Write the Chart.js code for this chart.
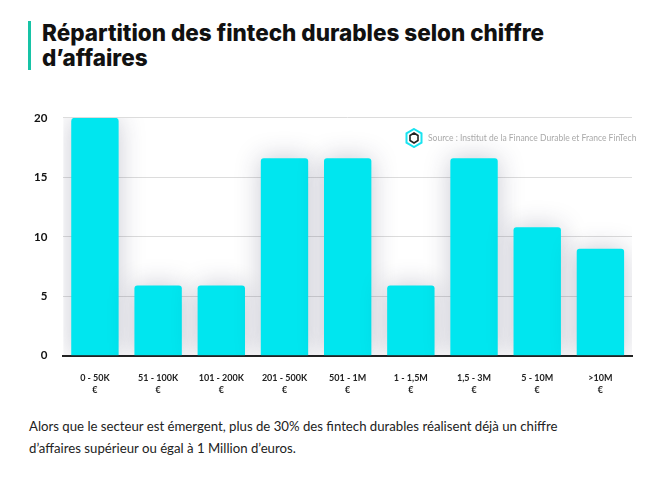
<!DOCTYPE html>
<html lang="fr">
<head>
<meta charset="utf-8">
<script src="https://cdn.jsdelivr.net/npm/chart.js@4.4.0/dist/chart.umd.min.js"></script>
<style>
  body { margin: 0; background: #fff; width: 661px; height: 481px; position: relative; overflow: hidden; font-family: Lato, sans-serif; }
  .title { position: absolute; left: 28px; top: 21px; border-left: 3px solid #17c3a6; padding-left: 11px; font-family: Inter, sans-serif; font-weight: 800; font-size: 22.5px; line-height: 24.5px; color: #111; letter-spacing: 0px; }
  .source { position: absolute; left: 405px; top: 128px; font-size: 8.5px; color: #a9a9a9; display: flex; align-items: center; gap: 5px; }
  .chart-box { position: absolute; left: 0; top: 95px; width: 661px; height: 310px; }
  .note { position: absolute; left: 29px; top: 415px; font-size: 13.2px; line-height: 22px; color: #222; }
</style>
</head>
<body>
<div class="title">Répartition des fintech durables selon chiffre<br>d’affaires</div>
<div class="chart-box"><canvas id="myChart"></canvas></div>
<div class="source">
  <svg width="18" height="20" viewBox="0 0 18 20">
    <polygon points="9,1 16.5,5.3 16.5,14.7 9,19 1.5,14.7 1.5,5.3" fill="none" stroke="#19e3f0" stroke-width="2"/>
    <polygon points="9,5 13,7.5 13,12.5 9,15 5,12.5 5,7.5" fill="none" stroke="#222" stroke-width="1.6"/>
  </svg>
  <span>Source : Institut de la Finance Durable et France FinTech</span>
</div>
<div class="note">Alors que le secteur est émergent, plus de 30% des fintech durables réalisent déjà un chiffre<br>d’affaires supérieur ou égal à 1 Million d’euros.</div>

<script>
// categories and values
const labels = [
    ['0 - 50K', '€'], ['51 - 100K', '€'], ['101 - 200K', '€'], ['201 - 500K', '€'], ['501 - 1M', '€'],
    ['1 - 1,5M', '€'], ['1,5 - 3M', '€'], ['5 - 10M', '€'], ['>10M', '€']
];
const values = [20, 5.9, 5.9, 16.6, 16.6, 5.9, 16.6, 10.8, 9.0];
const yTicks = [0, 5, 10, 15, 20];

// soft grey glow behind the bars
const barShadow = {
    id: 'barShadow',
    beforeDatasetsDraw(chart) {
        const ctx = chart.ctx;
        ctx.save();
        ctx.shadowColor = 'rgba(40, 40, 80, 0.25)';
        ctx.shadowBlur = 26;
        ctx.shadowOffsetX = 0;
        ctx.shadowOffsetY = 0;
    },
    afterDatasetsDraw(chart) {
        chart.ctx.restore();
    }
};

const ctx = document.getElementById('myChart');
new Chart(ctx, {
    type: 'bar',
    data: {
        labels: labels,
        datasets: [{
            data: values,
            backgroundColor: '#00e6ef',
            borderRadius: 3,
            borderSkipped: 'bottom',
            barPercentage: 0.75,
            categoryPercentage: 1
        }]
    },
    options: {
        responsive: true,
        maintainAspectRatio: false,
        animation: false,
        layout: { padding: { left: 18, right: 29, top: 16, bottom: 1 } },
        plugins: {
            legend: { display: false },
            tooltip: { enabled: false }
        },
        scales: {
            x: {
                grid: { display: false },
                border: { display: true, color: '#222', width: 2 },
                ticks: {
                    color: '#222',
                    font: { family: 'Lato', size: 9, weight: 'bold', lineHeight: 1.35 },
                    padding: 8,
                    maxRotation: 0
                }
            },
            y: {
                min: 0,
                max: 20,
                afterBuildTicks: axis => { axis.ticks = yTicks.map(v => ({ value: v })); },
                grid: { color: '#dcdcdc', drawTicks: false },
                border: { display: false },
                ticks: {
                    color: '#111',
                    font: { family: 'Lato', size: 11.5, weight: 'bold' },
                    padding: 16
                }
            }
        }
    },
    plugins: [barShadow]
});
</script>
</body>
</html>
